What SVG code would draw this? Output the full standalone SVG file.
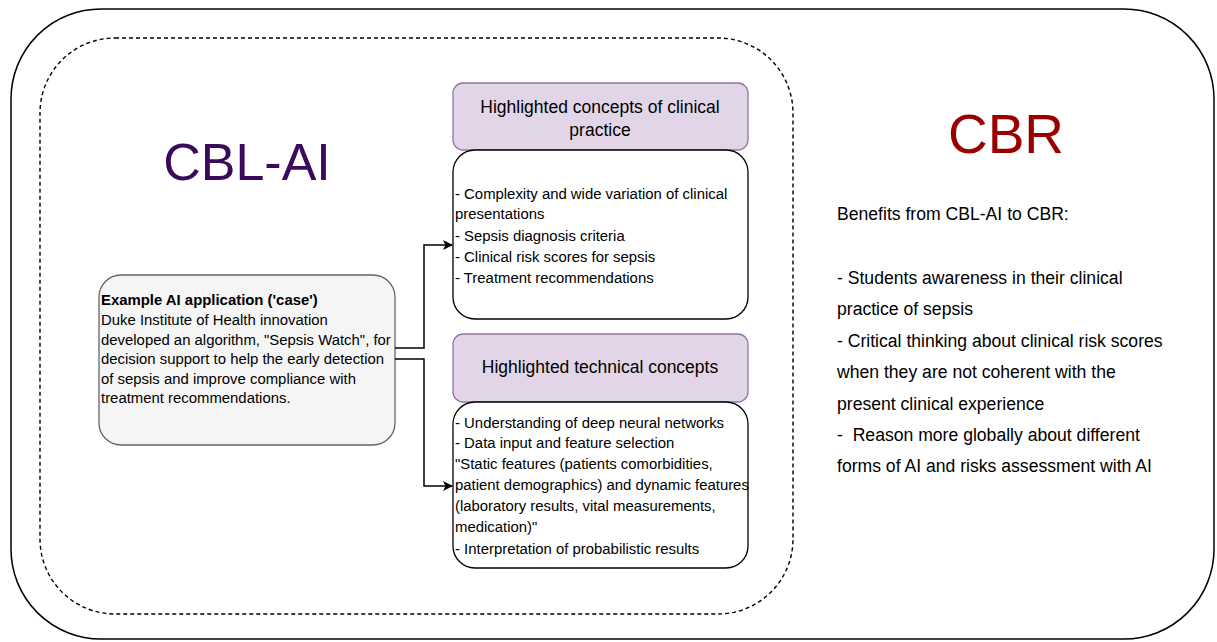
<svg xmlns="http://www.w3.org/2000/svg" width="1217" height="642" viewBox="0 0 1217 642">
<style>
text{font-family:"Liberation Sans",Arial,sans-serif;fill:#000}
.body{font-size:14.9px}
.hdr{font-size:17.5px;text-anchor:middle}
.purple{fill:#e1d5e7;stroke:#9673a6;stroke-width:1.3}
.white{fill:#fff;stroke:#000;stroke-width:1.3}
.conn{fill:none;stroke:#000;stroke-width:1.5}
.ben{font-size:17.6px}
</style>
<defs>
<marker id="arr" viewBox="0 0 10 10" refX="9" refY="5" markerWidth="10" markerHeight="10" markerUnits="userSpaceOnUse" orient="auto">
<path d="M0,0 L10,5 L0,10 L2.5,5 Z" fill="#000"/>
</marker>
</defs>
<rect width="1217" height="642" fill="#fff"/>
<g id="outer">
<rect x="11" y="9" width="1203" height="630" rx="90" ry="90" fill="none" stroke="#000" stroke-width="1.5"/>
</g>
<g id="cblai-frame">
<rect x="40" y="38" width="753" height="576" rx="75" ry="75" fill="none" stroke="#000" stroke-width="1.4" stroke-dasharray="4 3"/>
<text x="247" y="180" font-size="52" text-anchor="middle" style="fill:#3b0a5a">CBL-AI</text>
</g>
<g id="cbr">
<text x="1006" y="153" font-size="55" text-anchor="middle" style="fill:#990000">CBR</text>
<text class="ben" x="837" y="220">Benefits from CBL-AI to CBR:</text>
<text class="ben" x="837" y="284">- Students awareness in their clinical</text>
<text class="ben" x="837" y="315">practice of sepsis</text>
<text class="ben" x="837" y="347">- Critical thinking about clinical risk scores</text>
<text class="ben" x="837" y="378">when they are not coherent with the</text>
<text class="ben" x="837" y="410">present clinical experience</text>
<text class="ben" x="837" y="441" xml:space="preserve">-  Reason more globally about different</text>
<text class="ben" x="837" y="472">forms of AI and risks assessment with AI</text>
</g>
<g id="case">
<rect x="99" y="275" width="296" height="170" rx="22" ry="22" fill="#f5f5f5" stroke="#666" stroke-width="1.3"/>
<text class="body" x="101" y="305" font-weight="bold">Example AI application ('case')</text>
<text class="body" x="101" y="325">Duke Institute of Health innovation</text>
<text class="body" x="101" y="345">developed an algorithm, "Sepsis Watch", for</text>
<text class="body" x="101" y="364">decision support to help the early detection</text>
<text class="body" x="101" y="384">of sepsis and improve compliance with</text>
<text class="body" x="101" y="403">treatment recommendations.</text>
</g>
<g id="clinical-header">
<rect class="purple" x="453" y="83" width="295" height="67" rx="10" ry="10"/>
<text class="hdr" x="600" y="113">Highlighted concepts of clinical</text>
<text class="hdr" x="600" y="136">practice</text>
</g>
<g id="clinical-body">
<rect class="white" x="453" y="150" width="295" height="169" rx="22" ry="22"/>
<text class="body" x="455" y="199">- Complexity and wide variation of clinical</text>
<text class="body" x="455" y="219">presentations</text>
<text class="body" x="455" y="241">- Sepsis diagnosis criteria</text>
<text class="body" x="455" y="262">- Clinical risk scores for sepsis</text>
<text class="body" x="455" y="283">- Treatment recommendations</text>
</g>
<g id="technical-header">
<rect class="purple" x="453" y="334" width="295" height="68" rx="10" ry="10"/>
<text class="hdr" x="600" y="373">Highlighted technical concepts</text>
</g>
<g id="technical-body">
<rect class="white" x="453" y="402" width="295" height="166" rx="22" ry="22"/>
<text class="body" x="455" y="428">- Understanding of deep neural networks</text>
<text class="body" x="455" y="448">- Data input and feature selection</text>
<text class="body" x="455" y="469">"Static features (patients comorbidities,</text>
<text class="body" x="455" y="490">patient demographics) and dynamic features</text>
<text class="body" x="455" y="511">(laboratory results, vital measurements,</text>
<text class="body" x="455" y="532">medication)"</text>
<text class="body" x="455" y="554">- Interpretation of probabilistic results</text>
</g>
<g id="connectors">
<path class="conn" d="M395,348 H424 V245 H452" marker-end="url(#arr)"/>
<path class="conn" d="M395,359 H424 V486 H452" marker-end="url(#arr)"/>
</g>
</svg>
